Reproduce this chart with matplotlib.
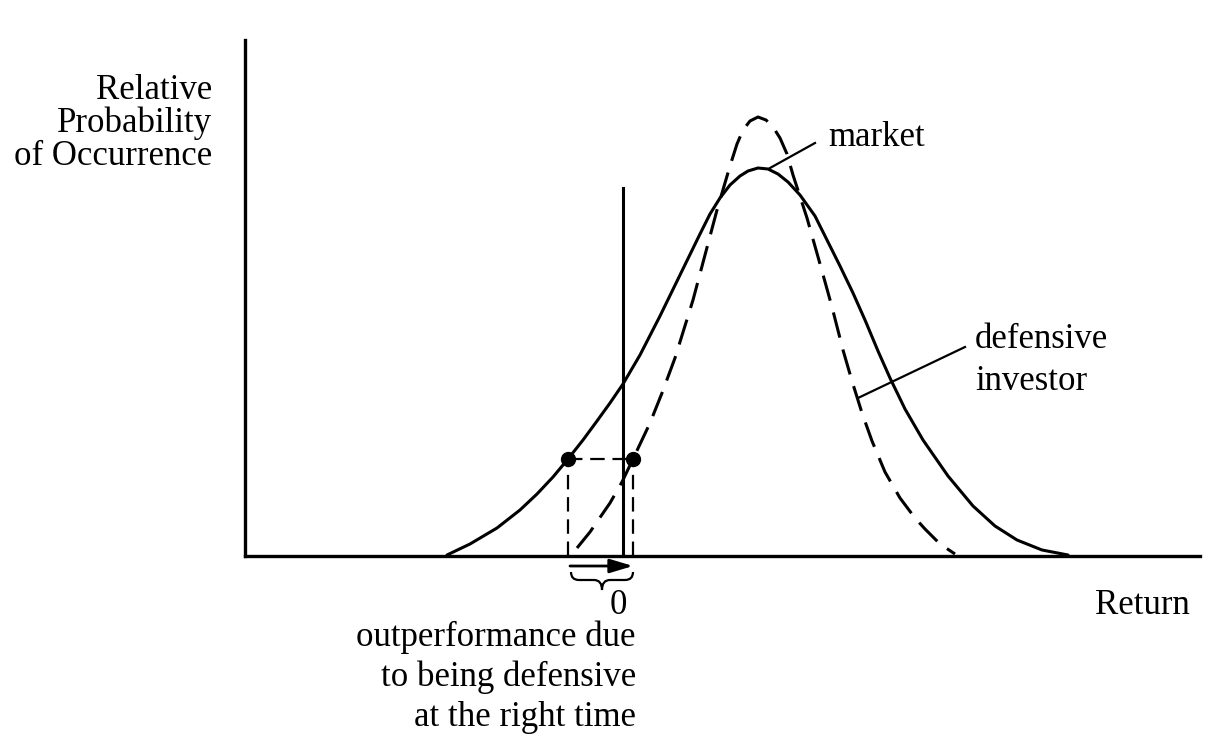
import matplotlib
matplotlib.use("Agg")
import matplotlib.pyplot as plt
from matplotlib.path import Path
from matplotlib.patches import PathPatch

# ---------------- data (return relative to 0, relative probability) ----------------
market_x = [-176, -153, -126, -103, -86, -70, -55, -40, -26, -13, 0, 17, 37, 57, 77,
            87, 97, 107, 117, 125, 135, 145, 155, 165, 177, 192, 204, 217, 230, 242,
            255, 267, 282, 300, 325, 350, 372, 394, 419, 445]
market_y = [1, 12, 28, 46, 62, 79, 97, 116, 135, 153, 172, 201, 240, 281, 322,
            342, 358, 371, 380, 385, 388, 387, 382, 374, 361, 340, 316, 290, 263, 236,
            205, 178, 147, 116, 80, 50, 30, 16, 6, 1]

defensive_x = [-46, -33, -13, -1, 10, 27, 39, 52, 70, 82, 94, 107, 114, 120, 127, 135,
               143, 150, 157, 164, 170, 184, 199, 209, 220, 229, 239, 249, 262, 277,
               292, 302, 317, 332]
defensive_y = [8, 24, 53, 74, 97, 133, 163, 198, 256, 301, 346, 390, 412, 426, 435, 439,
               436, 429, 418, 402, 381, 338, 285, 249, 206, 175, 143, 115, 84, 58,
               38, 27, 12, 2]

dot_x = [-55, 10]
dot_y = [97, 97]
zero_return = 0
zero_line_top = 368

y_label_lines = ["Relative", "Probability", "of Occurrence"]
x_label = "Return"
market_label = "market"
defensive_label = ["defensive", "investor"]
note_lines = ["outperformance due", "to being defensive", "at the right time"]
zero_label = "0"

# ---------------- figure ----------------
W, H = 1215, 738
fig = plt.figure(figsize=(W / 100, H / 100), dpi=100)
ax = fig.add_axes([245 / W, (H - 556) / H, 955 / W, 516 / H])
ax.set_xlim(-378, 577)
ax.set_ylim(0, 516)
for s in ["top", "right"]:
    ax.spines[s].set_visible(False)
for s in ["left", "bottom"]:
    ax.spines[s].set_linewidth(2.4)
    ax.spines[s].set_color("black")
ax.set_xticks([])
ax.set_yticks([])

FONT = "Liberation Serif"
FS = 25

# curves
ax.plot(market_x, market_y, color="black", lw=2.2, solid_joinstyle="round",
        solid_capstyle="round", clip_on=False)
ax.plot(defensive_x, defensive_y, color="black", lw=2.2, dashes=(8.5, 4.0),
        dash_joinstyle="round", clip_on=False)

# zero line
ax.plot([zero_return, zero_return], [0, zero_line_top], color="black", lw=2.2)

# dashed box
ax.plot([dot_x[0], dot_x[0]], [0, dot_y[0]], color="black", lw=1.6, dashes=(6.5, 3.5))
ax.plot([dot_x[1], dot_x[1]], [0, dot_y[1]], color="black", lw=1.6, dashes=(6.5, 3.5))
ax.plot(dot_x, dot_y, color="black", lw=1.6, dashes=(6.5, 3.5))
ax.plot(dot_x, dot_y, "o", color="black", ms=10, clip_on=False)

# arrow below axis
ax.annotate("", xy=(dot_x[1], -10), xytext=(dot_x[0] + 2, -10),
            xycoords="data", annotation_clip=False,
            arrowprops=dict(arrowstyle="-|>,head_length=1.4,head_width=0.42",
                            color="black", lw=2.0, shrinkA=0, shrinkB=0))

# curly brace
x0, x1 = dot_x[0] + 3, dot_x[1]
xc = (x0 + x1) / 2
yt, ym, yb = -16, -24, -34
r = 8
verts = [(x0, yt), (x0, ym), (x0 + r, ym),
         (xc - r, ym), (xc, ym), (xc, yb),
         (xc, ym), (xc + r, ym),
         (x1 - r, ym), (x1, ym), (x1, yt)]
codes = [Path.MOVETO, Path.CURVE3, Path.CURVE3,
         Path.LINETO, Path.CURVE3, Path.CURVE3,
         Path.CURVE3, Path.CURVE3,
         Path.LINETO, Path.CURVE3, Path.CURVE3]
ax.add_patch(PathPatch(Path(verts, codes), fill=False, lw=1.6, color="black",
                       clip_on=False))

# pointers
ax.plot([147, 192], [388, 413], color="black", lw=1.6, clip_on=False)
ax.plot([235, 342], [158, 209], color="black", lw=1.6, clip_on=False)

# texts (pixel-based placement helper)
def px_text(px, py, s, ha="left"):
    fig.text(px / W, 1 - py / H, s, ha=ha, va="baseline", fontsize=FS,
             family=FONT, color="black")

for i, line in enumerate(y_label_lines):
    px_text(212, 99 + 33 * i, line, ha="right")
px_text(828, 146, market_label)
px_text(975, 348, defensive_label[0])
px_text(975, 390, defensive_label[1])
px_text(1190, 614, x_label, ha="right")
px_text(619 - 9, 614, zero_label)
for i, line in enumerate(note_lines):
    px_text(636, 646 + 40 * i, line, ha="right")

fig.savefig("out.png", dpi=100, facecolor="white")
